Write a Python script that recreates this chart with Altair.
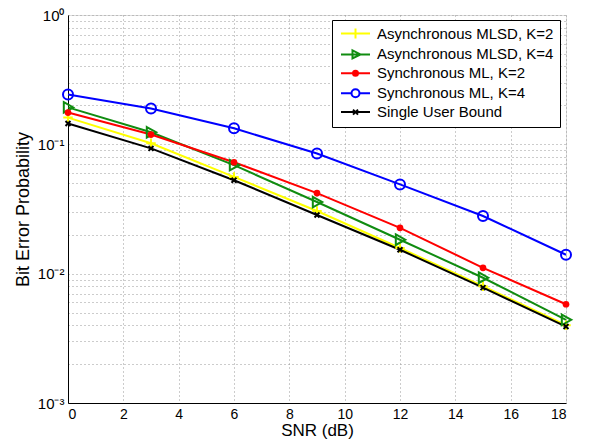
import altair as alt
import pandas as pd

snr = [0, 3, 6, 9, 12, 15, 18]
async_k2 = [0.161, 0.102, 0.056, 0.0305, 0.0158, 0.0080, 0.0040]
async_k4 = [0.193, 0.124, 0.069, 0.0358, 0.0183, 0.0093, 0.0044]
sync_k2 = [0.176, 0.119, 0.0727, 0.042, 0.0226, 0.0111, 0.0058]
sync_k4 = [0.243, 0.189, 0.133, 0.085, 0.049, 0.0279, 0.0140]
single = [0.145, 0.093, 0.0528, 0.0284, 0.0153, 0.0078, 0.0039]

names = ["Asynchronous MLSD, K=2", "Asynchronous MLSD, K=4",
         "Synchronous ML, K=2", "Synchronous ML, K=4", "Single User Bound"]
series_vals = [async_k2, async_k4, sync_k2, sync_k4, single]
colors = ["#ffff00", "#108c10", "#ff0000", "#0000ff", "#000000"]

# plot marker shapes (SVG paths in unit coords)
plot_shapes = [
    "M-1,0L1,0M0,-1L0,1",
    "M-0.8,-1L1,0L-0.8,1Z",
    "circle",
    "circle",
    "M-0.7,-0.7L0.7,0.7M-0.7,0.7L0.7,-0.7",
]
plot_sizes = [90, 110, 45, 100, 50]
plot_filled = [False, False, True, False, False]

# legend symbols: line + marker
leg_shapes = [
    "M-2.9,0L2.9,0M0,-1L0,1",
    "M-2.9,0L2.9,0M-0.6,-0.8L1,0L-0.6,0.8Z",
    "M-2.9,0L2.9,0M-0.5,0A0.5,0.5,0,1,1,0.5,0A0.5,0.5,0,1,1,-0.5,0",
    "M-2.9,0L-0.8,0M0.8,0L2.9,0M-0.8,0A0.8,0.8,0,1,1,0.8,0A0.8,0.8,0,1,1,-0.8,0",
    "M-2.9,0L2.9,0M-0.5,-0.5L0.5,0.5M-0.5,0.5L0.5,-0.5",
]
leg_fills = ["transparent", "transparent", "#ff0000", "transparent", "#000000"]

rows = []
for n, vals in zip(names, series_vals):
    for x, v in zip(snr, vals):
        rows.append({"snr": x, "ber": v, "series": n})
df = pd.DataFrame(rows)

ytick_vals = [float(f"{k}e{e}") for e in [-3, -2, -1] for k in range(1, 10)] + [1.0]

label_expr = ("datum.value == 1 ? '10⁰' : datum.value == 0.1 ? '10⁻¹' : "
              "datum.value == 0.01 ? '10⁻²' : datum.value == 0.001 ? '10⁻³' : ''")

xscale = alt.Scale(domain=[0, 18], nice=False)
yscale = alt.Scale(type="log", domain=[0.001, 1], nice=False)

xenc = alt.X("snr:Q", scale=xscale,
             axis=alt.Axis(title="SNR (dB)", values=list(range(0, 19, 2)),
                           grid=True, gridDash=[1, 3], gridColor="#999999",
                           ticks=False, labelFontSize=14, titleFontSize=17,
                           labelPadding=4, titlePadding=1, domainColor="black",
                           labelColor="black", titleColor="black",
                           titleFontWeight="normal", labelFont="Liberation Sans",
                           titleFont="Liberation Sans"))
yenc = alt.Y("ber:Q", scale=yscale,
             axis=alt.Axis(title="Bit Error Probability", values=ytick_vals,
                           labelExpr=label_expr, grid=True, gridDash=[1, 3],
                           gridColor="#999999", ticks=False, labelFontSize=15,
                           titleFontSize=18, labelPadding=4, titlePadding=5,
                           domainColor="black", labelColor="black",
                           titleColor="black", titleFontWeight="normal",
                           labelFont="Liberation Sans", titleFont="Liberation Sans",
                           labelFlush=False))

base = alt.Chart(df)
layers = []
for i, n in enumerate(names):
    sub = base.transform_filter(alt.datum.series == n)
    layers.append(sub.mark_line(color=colors[i], strokeWidth=2).encode(x=xenc, y=yenc))
for i, n in enumerate(names):
    sub = base.transform_filter(alt.datum.series == n)
    layers.append(sub.mark_point(shape=plot_shapes[i], size=plot_sizes[i],
                                 color=colors[i], filled=plot_filled[i],
                                 strokeWidth=2, opacity=1).encode(x=xenc, y=yenc))

legend_layer = base.transform_filter("datum.snr < 0").mark_point(
    strokeWidth=2, opacity=1).encode(
    x=xenc, y=yenc,
    color=alt.Color("series:N", scale=alt.Scale(domain=names, range=colors),
                    legend=alt.Legend(title=None, orient="none", legendX=264, legendY=5,
                                      symbolSize=100, labelFontSize=15,
                                      labelFont="Liberation Sans", labelColor="black",
                                      symbolOffset=10, labelOffset=14, rowPadding=2.9,
                                      padding=6, strokeColor="black", fillColor="white",
                                      symbolStrokeWidth=2, symbolOpacity=1,
                                      cornerRadius=0, labelLimit=400)),
    shape=alt.Shape("series:N", scale=alt.Scale(domain=names, range=leg_shapes)),
    fill=alt.Fill("series:N", scale=alt.Scale(domain=names, range=leg_fills)),
)
layers.append(legend_layer)

chart = alt.layer(*layers).properties(
    width=498, height=388,
    autosize=alt.AutoSizeParams(type="none"),
    padding={"left": 60, "top": 7, "right": 16, "bottom": 36},
).configure_view(stroke="black", strokeWidth=1).configure(background="white")

chart.save("out.html", embed_options={"renderer": "svg", "actions": False})
